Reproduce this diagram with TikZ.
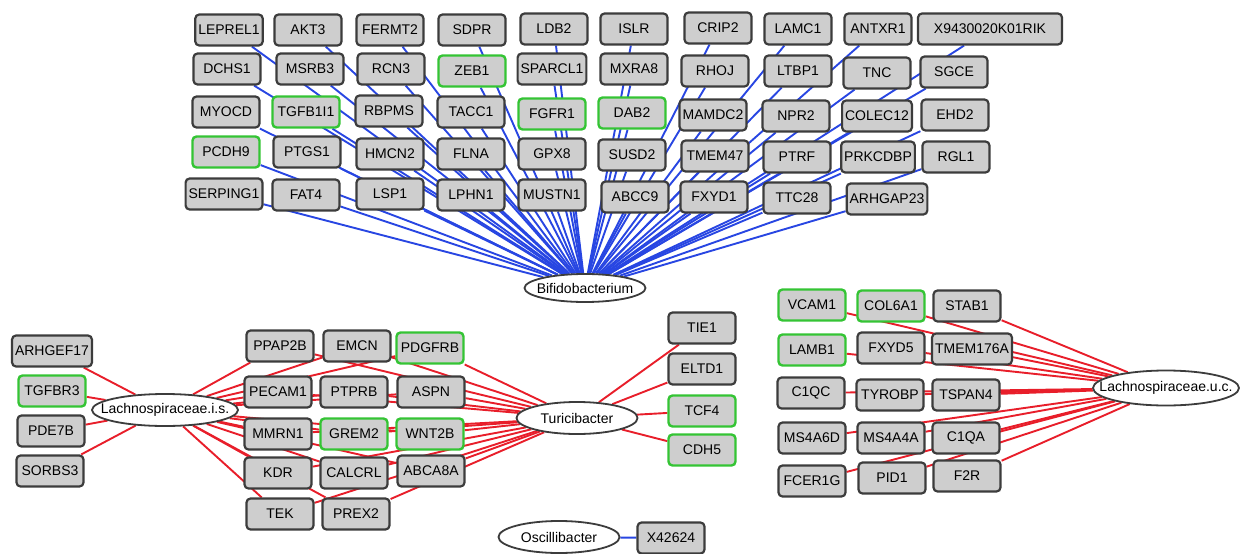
\documentclass[tikz,border=0pt]{standalone}
\usepackage{fontspec}
\setmainfont{Liberation Sans}
\usetikzlibrary{shapes.geometric, backgrounds}
\definecolor{boxgray}{RGB}{206,206,206}
\definecolor{boxedge}{RGB}{60,60,60}
\definecolor{hitgreen}{RGB}{52,196,52}
\definecolor{linkblue}{RGB}{40,70,226}
\definecolor{linkred}{RGB}{232,30,42}
\newcommand{\taxon}[1]{\makebox[0pt]{#1}}
\tikzset{
  gene/.style={draw=boxedge, fill=boxgray, rounded corners=4pt, line width=2.2pt,
    minimum width=67pt, minimum height=31pt, inner xsep=3pt, inner ysep=0pt,
    font=\fontsize{14}{16}\selectfont},
  hit/.style={gene, draw=hitgreen, line width=2.4pt},
  bact/.style={ellipse, draw=boxedge, fill=white, line width=1.8pt,
    minimum width=121pt, minimum height=32pt, inner sep=0pt,
    font=\fontsize{14}{16}\selectfont},
  bluelink/.style={draw=linkblue, line width=1.9pt},
  redlink/.style={draw=linkred, line width=1.9pt},
}

\begin{document}
\begin{tikzpicture}[x=1pt, y=-1pt]
  \useasboundingbox (0,0) rectangle (1240,554);

  % Bifidobacterium block
  \node [gene] (LEPREL1) at (229, 30) {LEPREL1};
  \node [gene] (AKT3) at (308, 30) {AKT3};
  \node [gene] (FERMT2) at (390, 30) {FERMT2};
  \node [gene] (SDPR) at (472, 30) {SDPR};
  \node [gene] (LDB2) at (554, 29) {LDB2};
  \node [gene] (ISLR) at (634, 29) {ISLR};
  \node [gene] (CRIP2) at (718, 28) {CRIP2};
  \node [gene] (LAMC1) at (798, 29) {LAMC1};
  \node [gene] (ANTXR1) at (878, 29) {ANTXR1};
  \node [gene, minimum width=144pt] (X9430020K01RIK) at (990, 29) {X9430020K01RIK};

  \node [gene] (DCHS1) at (227, 69) {DCHS1};
  \node [gene] (MSRB3) at (310, 69) {MSRB3};
  \node [gene] (RCN3) at (391, 69) {RCN3};
  \node [hit] (ZEB1) at (472, 71) {ZEB1};
  \node [gene] (SPARCL1) at (552, 69) {SPARCL1};
  \node [gene] (MXRA8) at (634, 69) {MXRA8};
  \node [gene] (RHOJ) at (715, 71) {RHOJ};
  \node [gene] (LTBP1) at (798, 71) {LTBP1};
  \node [gene] (TNC) at (877, 73) {TNC};
  \node [gene] (SGCE) at (954, 72) {SGCE};

  \node [gene] (MYOCD) at (226, 112) {MYOCD};
  \node [hit] (TGFB1I1) at (306, 112) {TGFB1I1};
  \node [gene] (RBPMS) at (389, 111) {RBPMS};
  \node [gene] (TACC1) at (471, 112) {TACC1};
  \node [hit] (FGFR1) at (552, 114) {FGFR1};
  \node [hit] (DAB2) at (632, 113) {DAB2};
  \node [gene] (MAMDC2) at (713, 115) {MAMDC2};
  \node [gene] (NPR2) at (796, 116) {NPR2};
  \node [gene] (COLEC12) at (877, 116) {COLEC12};
  \node [gene] (EHD2) at (955, 115) {EHD2};

  \node [hit] (PCDH9) at (226, 152) {PCDH9};
  \node [gene] (PTGS1) at (307, 152) {PTGS1};
  \node [gene] (HMCN2) at (390, 154) {HMCN2};
  \node [gene] (FLNA) at (471, 154) {FLNA};
  \node [gene] (GPX8) at (552, 154) {GPX8};
  \node [gene] (SUSD2) at (632, 155) {SUSD2};
  \node [gene] (TMEM47) at (715, 156) {TMEM47};
  \node [gene] (PTRF) at (797, 157) {PTRF};
  \node [gene] (PRKCDBP) at (878, 157) {PRKCDBP};
  \node [gene] (RGL1) at (956, 157) {RGL1};

  \node [gene, minimum width=76pt] (SERPING1) at (224, 194) {SERPING1};
  \node [gene] (FAT4) at (306, 195) {FAT4};
  \node [gene] (LSP1) at (390, 194) {LSP1};
  \node [gene] (LPHN1) at (471, 195) {LPHN1};
  \node [gene] (MUSTN1) at (552, 195) {MUSTN1};
  \node [gene] (ABCC9) at (635, 197) {ABCC9};
  \node [gene] (FXYD1) at (714, 197) {FXYD1};
  \node [gene] (TTC28) at (797, 198) {TTC28};
  \node [gene, minimum width=78pt] (ARHGAP23) at (887, 199) {ARHGAP23};

  \node [bact, minimum height=28pt] (bif) at (585, 288) {\taxon{Bifidobacterium}};

  % Lachnospiraceae.i.s. / Turicibacter block
  \node [gene, minimum width=77pt] (ARHGEF17) at (52, 351) {ARHGEF17};
  \node [hit] (TGFBR3) at (52, 391) {TGFBR3};
  \node [gene] (PDE7B) at (51, 431) {PDE7B};
  \node [gene] (SORBS3) at (50, 471) {SORBS3};

  \node [bact, minimum width=146pt] (lachis) at (165, 410) {\taxon{Lachnospiraceae.i.s.}};

  \node [gene] (PPAP2B) at (280, 346) {PPAP2B};
  \node [gene] (EMCN) at (357, 346) {EMCN};
  \node [hit] (PDGFRB) at (430, 348) {PDGFRB};
  \node [gene] (PECAM1) at (278, 392) {PECAM1};
  \node [gene] (PTPRB) at (354, 392) {PTPRB};
  \node [gene] (ASPN) at (431, 392) {ASPN};
  \node [gene] (MMRN1) at (278, 434) {MMRN1};
  \node [hit] (GREM2) at (354, 434) {GREM2};
  \node [hit] (WNT2B) at (430, 434) {WNT2B};
  \node [gene] (KDR) at (278, 473) {KDR};
  \node [gene] (CALCRL) at (354, 473) {CALCRL};
  \node [gene] (ABCA8A) at (431, 471) {ABCA8A};
  \node [gene] (TEK) at (280, 514) {TEK};
  \node [gene] (PREX2) at (356, 514) {PREX2};

  \node [bact] (turi) at (577, 418) {\taxon{Turicibacter}};

  \node [gene] (TIE1) at (702, 328) {TIE1};
  \node [gene] (ELTD1) at (702, 369) {ELTD1};
  \node [hit] (TCF4) at (702, 411) {TCF4};
  \node [hit] (CDH5) at (702, 450) {CDH5};

  \node [bact] (osci) at (559, 537) {\taxon{Oscillibacter}};
  \node [gene] (X42624) at (671, 538) {X42624};

  % Lachnospiraceae.u.c. block
  \node [hit] (VCAM1) at (812, 305) {VCAM1};
  \node [hit] (COL6A1) at (891, 306) {COL6A1};
  \node [gene] (STAB1) at (967, 306) {STAB1};
  \node [hit] (LAMB1) at (812, 350) {LAMB1};
  \node [gene] (FXYD5) at (891, 348) {FXYD5};
  \node [gene, minimum width=78pt] (TMEM176A) at (972, 349) {TMEM176A};
  \node [gene] (C1QC) at (811, 393) {C1QC};
  \node [gene] (TYROBP) at (890, 395) {TYROBP};
  \node [gene] (TSPAN4) at (966, 395) {TSPAN4};
  \node [gene] (MS4A6D) at (812, 438) {MS4A6D};
  \node [gene] (MS4A4A) at (891, 438) {MS4A4A};
  \node [gene] (C1QA) at (966, 438) {C1QA};
  \node [gene] (FCER1G) at (812, 481) {FCER1G};
  \node [gene] (PID1) at (892, 478) {PID1};
  \node [gene] (F2R) at (967, 476) {F2R};

  \node [bact, minimum width=146pt, minimum height=35pt] (lachuc) at (1166, 388) {\taxon{Lachnospiraceae.u.c.}};

  % links
  \begin{scope}[on background layer]
    \foreach \g in {LEPREL1, AKT3, FERMT2, SDPR, LDB2, ISLR, CRIP2, LAMC1, ANTXR1, X9430020K01RIK,
        DCHS1, MSRB3, RCN3, ZEB1, SPARCL1, MXRA8, RHOJ, LTBP1, TNC, SGCE,
        MYOCD, TGFB1I1, RBPMS, TACC1, FGFR1, DAB2, MAMDC2, NPR2, COLEC12, EHD2,
        PCDH9, PTGS1, HMCN2, FLNA, GPX8, SUSD2, TMEM47, PTRF, PRKCDBP, RGL1,
        SERPING1, FAT4, LSP1, LPHN1, MUSTN1, ABCC9, FXYD1, TTC28, ARHGAP23}
      \draw [bluelink] (bif) -- (\g);
    \draw [bluelink] (osci) -- (X42624);
    \foreach \g in {ARHGEF17, TGFBR3, PDE7B, SORBS3}
      \draw [redlink] (lachis) -- (\g);
    \foreach \g in {PPAP2B, EMCN, PDGFRB, PECAM1, PTPRB, ASPN, MMRN1, GREM2, WNT2B,
        KDR, CALCRL, ABCA8A, TEK, PREX2} {
      \draw [redlink] (lachis) -- (\g);
      \draw [redlink] (turi) -- (\g);
    }
    \foreach \g in {TIE1, ELTD1, TCF4, CDH5}
      \draw [redlink] (turi) -- (\g);
    \foreach \g in {VCAM1, COL6A1, STAB1, LAMB1, FXYD5, TMEM176A, C1QC, TYROBP, TSPAN4,
        MS4A6D, MS4A4A, C1QA, FCER1G, PID1, F2R}
      \draw [redlink] (lachuc) -- (\g);
  \end{scope}
\end{tikzpicture}
\end{document}
